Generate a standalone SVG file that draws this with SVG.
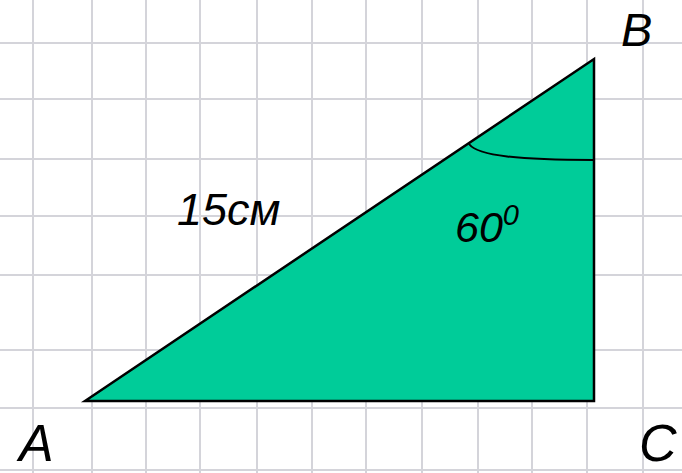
<svg xmlns="http://www.w3.org/2000/svg" width="682" height="473" viewBox="0 0 682 473">
<style>
.grid line{stroke:#d4d4da;stroke-width:2}
.lbl{font-family:"Liberation Sans",Arial,sans-serif;font-style:italic;fill:#000}
</style>
<rect width="682" height="473" fill="#ffffff"/>
<g class="grid">
<line x1="33" y1="0" x2="33" y2="473"/>
<line x1="92" y1="0" x2="92" y2="473"/>
<line x1="146" y1="0" x2="146" y2="473"/>
<line x1="200" y1="0" x2="200" y2="473"/>
<line x1="257" y1="0" x2="257" y2="473"/>
<line x1="312" y1="0" x2="312" y2="473"/>
<line x1="366" y1="0" x2="366" y2="473"/>
<line x1="422" y1="0" x2="422" y2="473"/>
<line x1="478" y1="0" x2="478" y2="473"/>
<line x1="532" y1="0" x2="532" y2="473"/>
<line x1="587" y1="0" x2="587" y2="473"/>
<line x1="643" y1="0" x2="643" y2="473"/>
<line x1="0" y1="43" x2="682" y2="43"/>
<line x1="0" y1="99" x2="682" y2="99"/>
<line x1="0" y1="159" x2="682" y2="159"/>
<line x1="0" y1="216" x2="682" y2="216"/>
<line x1="0" y1="275" x2="682" y2="275"/>
<line x1="0" y1="350" x2="682" y2="350"/>
<line x1="0" y1="408" x2="682" y2="408"/>
<line x1="0" y1="470" x2="682" y2="470"/>
</g>
<g id="triangle">
<polygon points="85,401 594,59 594,401" fill="#00cc99" stroke="#000" stroke-width="2.5" stroke-linejoin="miter"/>
<path d="M469,144 C478,156 520,160 594,160" fill="none" stroke="#000" stroke-width="2"/>
</g>
<g id="labels">
<text class="lbl" x="177" y="225" font-size="45">15см</text>
<text class="lbl" x="455" y="242" font-size="43">60<tspan font-size="29" dy="-17">0</tspan></text>
<text class="lbl" x="621" y="46" font-size="47">B</text>
<text class="lbl" x="19" y="461" font-size="52">A</text>
<text class="lbl" x="639" y="461" font-size="52">C</text>
</g>
</svg>
